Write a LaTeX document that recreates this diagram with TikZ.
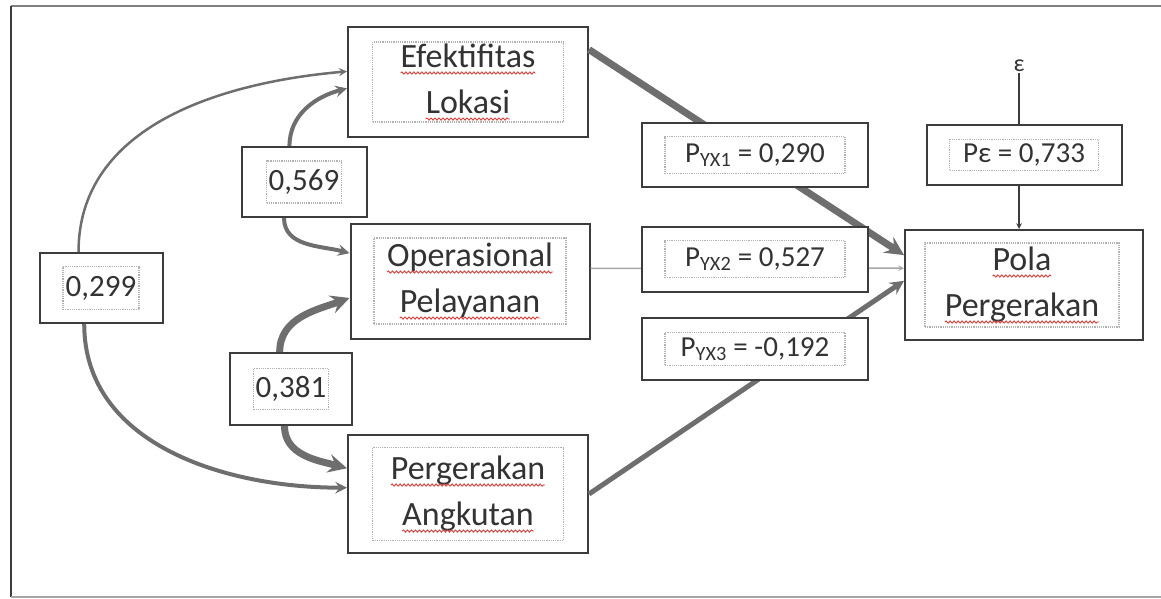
\documentclass[tikz,border=0pt]{standalone}
\usepackage{fontspec}
\setmainfont{Carlito}
\usetikzlibrary{decorations.pathmorphing}
\definecolor{txt}{HTML}{333333}
\definecolor{frame}{HTML}{3C3C3C}
\definecolor{arr}{HTML}{6E6E6E}
\definecolor{wave}{HTML}{E0403C}
% red spell-check wave under a word
\newcommand\sq[1]{\tikz[baseline=(w.base)]{\node[inner sep=0pt,outer sep=0pt,draw=none,
    minimum width=0pt,minimum height=0pt] (w) {#1};
  \draw[wave,solid,line width=0.9pt,decorate,decoration={snake,amplitude=1.1pt,segment length=4pt}]
    ([yshift=-6pt]w.base west) -- ([yshift=-6pt]w.base east);}}
\tikzset{
  varbox/.style={draw=frame,line width=2pt,fill=white,inner sep=0pt},
  inbox/.style={draw=gray!60,densely dotted,line width=1.2pt,inner sep=0pt,align=center,
    text=txt,font=\fontsize{29}{46}\selectfont},
  namebox/.style={inbox,font=\fontsize{34}{46}\selectfont},
  link/.style={draw=arr,->}
}
\begin{document}
\begin{tikzpicture}[x=1pt,y=1pt,>=stealth]
  \useasboundingbox (0,0) rectangle (1161,-598);
  \draw[gray,line width=2pt] (1161,-6) -- (11,-6);
  \draw[frame,line width=2.5pt] (11,-6) -- (11,-597);
  \draw[gray!70,line width=1.5pt] (11,-597) -- (1161,-597);
  % variables
  \node[varbox,minimum width=240,minimum height=110] (efek) at (468,-82) {};
  \node[namebox,minimum width=191,minimum height=80] (efek-t) at (efek) {\sq{Efektifitas}\\\sq{Lokasi}};
  \node[varbox,minimum width=239,minimum height=115] (oper) at (470,-281) {};
  \node[namebox,minimum width=192,minimum height=86] (oper-t) at (oper) {\sq{Operasional}\\\sq{Pelayanan}};
  \node[varbox,minimum width=240,minimum height=118] (perg) at (468,-494) {};
  \node[namebox,minimum width=191,minimum height=93] (perg-t) at (perg) {\sq{Pergerakan}\\\sq{Angkutan}};
  \node[varbox,minimum width=238,minimum height=110] (pola) at (1024,-285) {};
  \node[namebox,minimum width=194,minimum height=84] (pola-t) at (1022,-285) {\sq{Pola}\\\sq{Pergerakan}};
  % correlations
  \node[varbox,minimum width=125,minimum height=70] (c569) at (304,-182) {};
  \node[inbox,minimum width=75,minimum height=42,font=\fontsize{31}{31}\selectfont] at (c569) {0,569};
  \node[varbox,minimum width=123,minimum height=70] (c299) at (101,-288) {};
  \node[inbox,minimum width=76,minimum height=43,font=\fontsize{31}{31}\selectfont] at (c299) {0,299};
  \node[varbox,minimum width=122,minimum height=72] (c381) at (291,-389) {};
  \node[inbox,minimum width=75,minimum height=41,font=\fontsize{31}{31}\selectfont] at (c381) {0,381};
  \draw[link,line width=2.5pt] (c299.122) to[out=90,in=185] (efek.175);
  \draw[link,line width=4pt] (c299.245) to[out=-90,in=180] (perg.177);
  \draw[link,line width=4pt] (c569.112) to[out=90,in=195] (efek.183);
  \draw[link,line width=4pt] (c569.241) to[out=-90,in=165] (oper.167);
  \draw[link,line width=7pt] (c381.107) to[out=90,in=200] (oper.188);
  \draw[link,line width=7pt] (c381.260) to[out=-90,in=165] (perg.168);
  % paths
  \draw[link,line width=7pt] (efek.15) -- (pola.166);
  \draw[link,draw=gray!70,line width=1.5pt] (oper.6) -- (pola.172);
  \draw[link,line width=5pt] (perg.east) -- (pola.178);
  \node[varbox,minimum width=226,minimum height=64] (p1) at (755,-155) {};
  \node[inbox,minimum width=180,minimum height=37] at (p1) {P\textsubscript{YX1} = 0,290};
  \node[varbox,minimum width=226,minimum height=65] (p2) at (755,-259) {};
  \node[inbox,minimum width=180,minimum height=37] at (p2) {P\textsubscript{YX2} = 0,527};
  \node[varbox,minimum width=226,minimum height=62] (p3) at (755,-349) {};
  \node[inbox,minimum width=180,minimum height=33] at (p3) {P\textsubscript{YX3} = -0,192};
  % residual
  \node[text=txt,font=\fontsize{24}{24}\selectfont,inner sep=1pt] (eps) at (1019,-66) {ε};
  \node[varbox,minimum width=195,minimum height=60] (pe) at (1024,-155) {};
  \node[inbox,minimum width=149,minimum height=31] at (pe) {Pε = 0,733};
  \draw[frame,line width=1.5pt] (eps.south) -- (eps.south |- pe.north);
  \draw[->,frame,line width=1.5pt] (pe.south -| eps) -- (pola.north -| eps);
\end{tikzpicture}
\end{document}
